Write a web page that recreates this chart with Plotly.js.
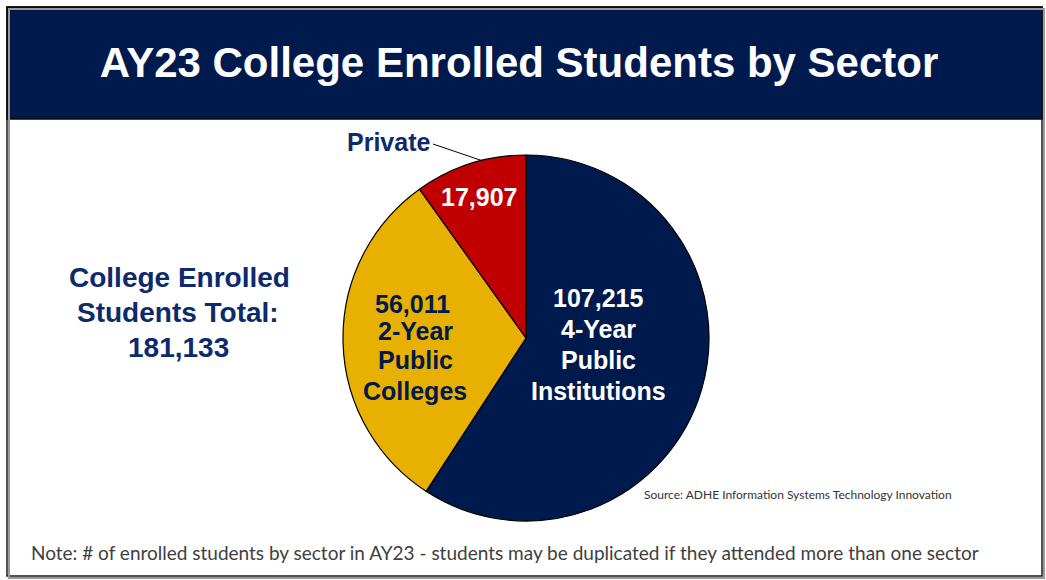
<!DOCTYPE html>
<html>
<head>
<meta charset="utf-8">
<script src="https://cdn.plot.ly/plotly-3.0.1.min.js"></script>
<style>html,body{margin:0;padding:0;background:#fff;}#chart{width:1046px;height:580px;}</style>
</head>
<body>
<div id="chart"></div>
<script>
var sectors = ["4-Year Public Institutions", "2-Year Public Colleges", "Private"];
var enrolled = [107215, 56011, 17907];
var sectorColors = ["#001a4d", "#e8b000", "#c00000"];
var chartTitle = "AY23 College Enrolled Students by Sector";
var totalLabel = ["College Enrolled", "Students Total:"];
var sourceText = "Source: ADHE Information Systems Technology Innovation";
var noteText = "Note: # of enrolled students by sector in AY23 - students may be duplicated if they attended more than one sector";

var W = 1046, H = 580;
function px(x){ return x / W; }
function py(y){ return 1 - y / H; }
function fmt(v){ return v.toLocaleString("en-US"); }
var total = enrolled.reduce(function(a,b){return a+b;}, 0);

var cx = 526, cy = 338, r = 183;
var bold = "Liberation Sans, Arial, sans-serif";
var light = "Lato, Open Sans, sans-serif";

var trace = {
  type: "pie",
  labels: sectors,
  values: enrolled,
  sort: false,
  direction: "clockwise",
  rotation: 0,
  textinfo: "none",
  hoverinfo: "label+value",
  marker: {colors: sectorColors, line: {color: "#000", width: 1.2}},
  domain: {x: [px(cx - r), px(cx + r)], y: [py(cy + r), py(cy - r)]},
  showlegend: false
};

function ann(x, y, text, size, color, family, weight){
  return {x: px(x), y: py(y), xref: "paper", yref: "paper", text: text, showarrow: false,
    xanchor: "center", yanchor: "middle", align: "center",
    font: {size: size, color: color, family: family, weight: weight || "bold"}};
}

var fourYr = [fmt(enrolled[0]), "4-Year", "Public", "Institutions"];
var twoYr = [fmt(enrolled[1]), "2-Year", "Public", "Colleges"];
var fourY = [298, 329, 360, 391];
var twoY = [304, 331, 360, 391];
var twoX = [412, 415, 415, 415];

var annotations = [
  ann(179, 277, totalLabel[0], 28, "#0d2a6b", bold),
  ann(178, 312, totalLabel[1], 28, "#0d2a6b", bold),
  ann(178, 347, fmt(total), 28, "#0d2a6b", bold),
  ann(479, 197, fmt(enrolled[2]), 25, "#ffffff", bold),
  ann(388, 142, sectors[2], 25, "#0d2a6b", bold),
  ann(798, 494, sourceText, 12, "#333333", light, "normal"),
  ann(505, 552, noteText, 19, "#404040", light, "normal")
];
fourYr.forEach(function(t, i){ annotations.push(ann(598, fourY[i], t, 25, "#ffffff", bold)); });
twoYr.forEach(function(t, i){ annotations.push(ann(twoX[i], twoY[i], t, 25, "#001a4d", bold)); });

var layout = {
  width: W, height: H,
  margin: {l: 0, r: 0, t: 0, b: 0},
  paper_bgcolor: "#fff",
  title: {text: chartTitle, x: px(519), xanchor: "center", y: py(62), yanchor: "middle", yref: "paper",
    font: {size: 42, color: "#ffffff", family: bold, weight: "bold"}},
  shapes: [
    {type: "rect", xref: "paper", yref: "paper", x0: px(9), x1: px(1044), y0: py(578), y1: py(9),
      line: {color: "#9a9a9a", width: 2}, fillcolor: "rgba(0,0,0,0)"},
    {type: "rect", xref: "paper", yref: "paper", x0: px(7), x1: px(1042), y0: py(576), y1: py(7),
      line: {color: "#1a1a1a", width: 1.5}, fillcolor: "#ffffff", layer: "below"},
    {type: "rect", xref: "paper", yref: "paper", x0: px(7), x1: px(1042), y0: py(119), y1: py(7),
      line: {color: "#0a0a0a", width: 1.5}, fillcolor: "#001a4d", layer: "below"},
    {type: "line", xref: "paper", yref: "paper", x0: px(433), y0: py(144), x1: px(483), y1: py(161),
      line: {color: "#000", width: 1}}
  ],
  annotations: annotations
};

Plotly.newPlot("chart", [trace], layout, {displayModeBar: false, staticPlot: true});
</script>
</body>
</html>
